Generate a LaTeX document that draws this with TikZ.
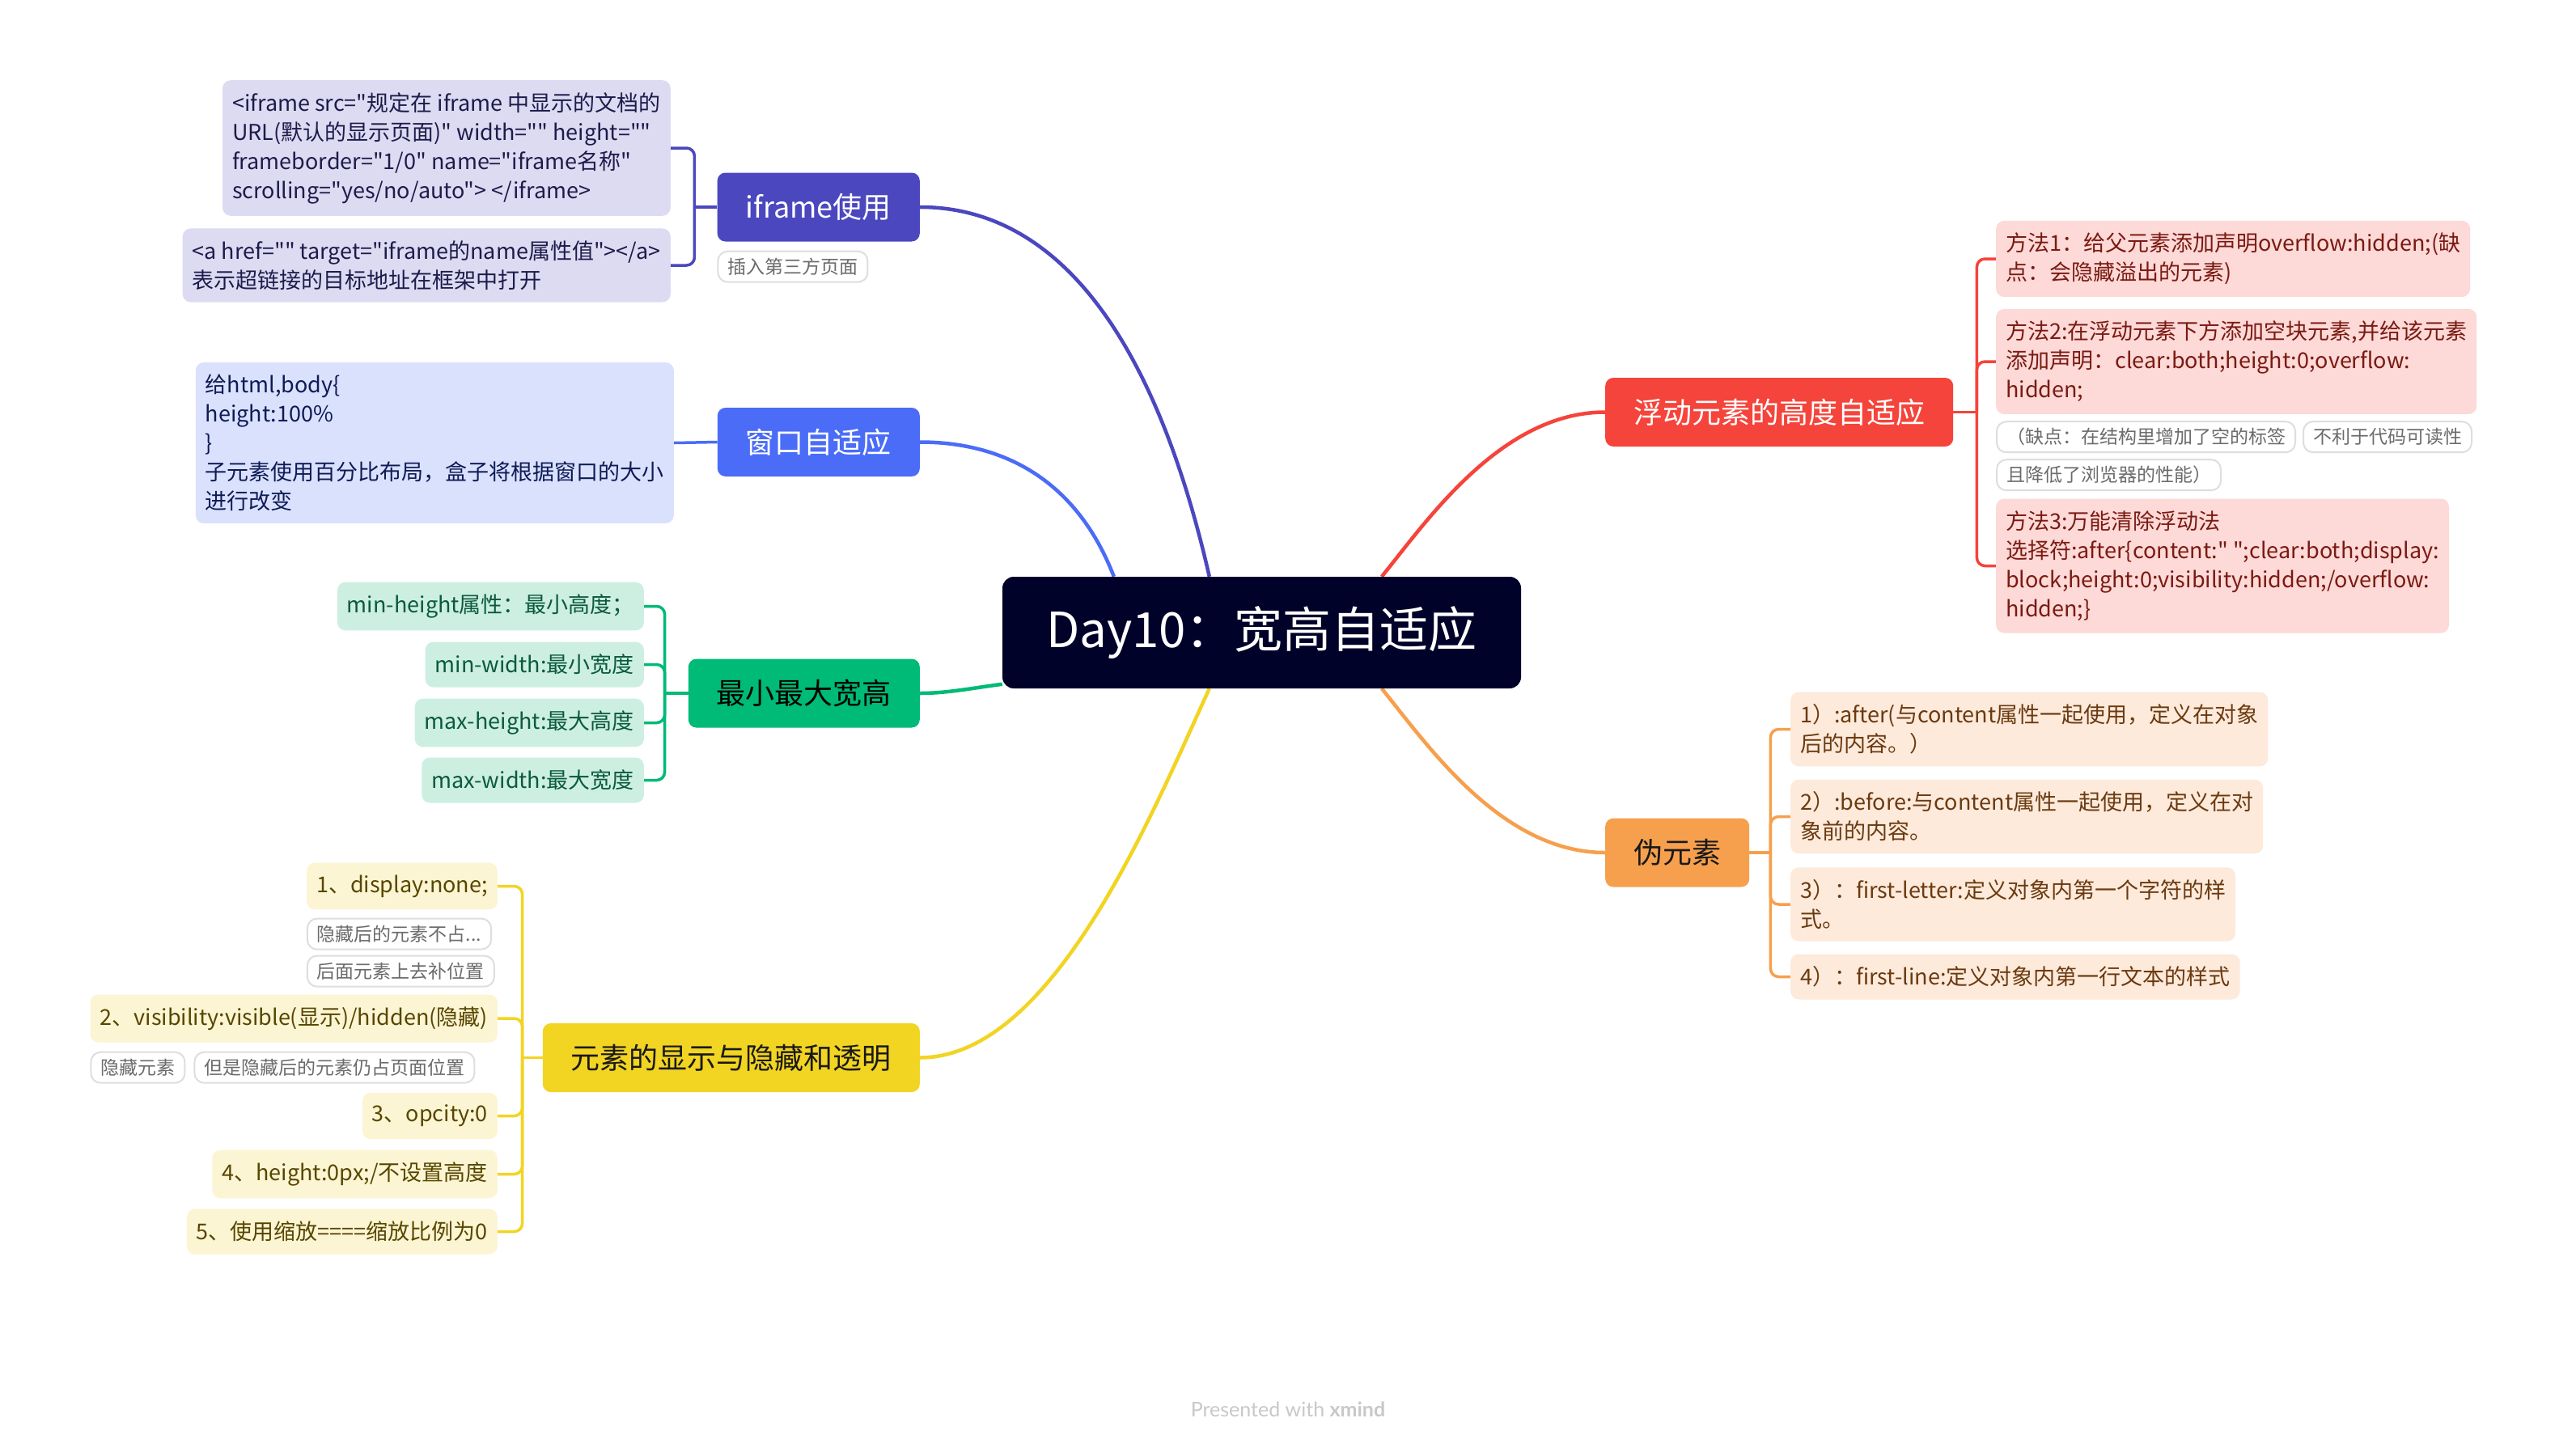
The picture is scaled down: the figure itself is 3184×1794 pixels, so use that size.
\documentclass[tikz,border=0pt]{standalone}
\usepackage{fontspec}
\newfontfamily\cjkmain{Noto Sans CJK SC}
\newfontfamily\footfont{Lato}
\usetikzlibrary{calc}
\definecolor{cRoot}{HTML}{000229}
\definecolor{cIf}{HTML}{4B47BE}\definecolor{cIfL}{HTML}{DDDBF2}\definecolor{cIfT}{HTML}{1E1B4B}
\definecolor{cWin}{HTML}{4A6CF7}\definecolor{cWinL}{HTML}{DAE1FD}\definecolor{cWinT}{HTML}{0E1B56}
\definecolor{cMm}{HTML}{00BA77}\definecolor{cMmL}{HTML}{CCEFE2}\definecolor{cMmT}{HTML}{0B5A3C}
\definecolor{cVis}{HTML}{F2D422}\definecolor{cVisL}{HTML}{FCF5D3}\definecolor{cVisT}{HTML}{574600}
\definecolor{cFl}{HTML}{F5443B}\definecolor{cFlL}{HTML}{FDD9D7}\definecolor{cFlT}{HTML}{7A1A12}
\definecolor{cPs}{HTML}{F6A04D}\definecolor{cPsL}{HTML}{FDEADB}\definecolor{cPsT}{HTML}{6B3A10}
\definecolor{cLblB}{HTML}{DEDEDE}\definecolor{cLblT}{HTML}{6B6B6B}
\definecolor{cFoot}{HTML}{C8C8C8}
\newcommand\fsRoot{\cjkmain\fontsize{60}{72}\selectfont}
\newcommand\fsMain{\cjkmain\fontsize{36}{44}\selectfont}
\newcommand\fsChild{\cjkmain\fontsize{27}{36}\selectfont}
\newcommand\fsLabel{\cjkmain\fontsize{23}{28}\selectfont}
\pgfdeclarelayer{bg}
\pgfsetlayers{bg,main}
\begin{document}
\begin{tikzpicture}[x=1pt,y=-1pt,
  rootbox/.style={fill=cRoot, text=white, rounded corners=14pt, minimum width=641pt, minimum height=138pt, inner sep=0pt, font=\fsRoot},
  mainbox/.style={rounded corners=10pt, minimum height=85pt, inner xsep=35pt, inner ysep=0pt, font=\fsMain},
  childbox/.style={rounded corners=10pt, minimum height=56pt, inner xsep=12pt, inner ysep=15pt, align=left, font=\fsChild},
  lbl/.style={draw=cLblB, line width=2pt, fill=white, rounded corners=12pt, minimum height=38pt, inner xsep=12pt, inner ysep=0pt, text=cLblT, font=\fsLabel},
  conn/.style={line width=4.5pt},
  brk/.style={line width=3.5pt},
  brc/.style={line width=3.5pt, rounded corners=10pt},
  ifc/.style={childbox, fill=cIfL, text=cIfT, anchor=east},
  winc/.style={childbox, fill=cWinL, text=cWinT, anchor=east},
  mmc/.style={childbox, fill=cMmL, text=cMmT, anchor=east},
  visc/.style={childbox, fill=cVisL, text=cVisT, anchor=east},
  flc/.style={childbox, fill=cFlL, text=cFlT, anchor=west},
  psc/.style={childbox, fill=cPsL, text=cPsT, anchor=west}
]
\useasboundingbox (0,0) rectangle (3184,1794);

% root
\node[rootbox] (root) at (1559.5,782) {Day10：宽高自适应};

% main topics
\node[mainbox, fill=cIf, text=white, anchor=east] (iframe) at (1137,256) {iframe使用};
\node[mainbox, fill=cWin, text=white, anchor=east] (win) at (1137,546.5) {窗口自适应};
\node[mainbox, fill=cMm, text=black, anchor=east] (minmax) at (1137,857) {最小最大宽高};
\node[mainbox, fill=cVis, text=black!90, anchor=east] (vis) at (1137,1307.5) {元素的显示与隐藏和透明};
\node[mainbox, fill=cFl, text=white, anchor=west] (float) at (1984,509.5) {浮动元素的高度自适应};
\node[mainbox, fill=cPs, text=black!90, anchor=west] (pseudo) at (1984,1054) {伪元素};

% iframe children
\node[ifc] (if1) at (829,183) {<iframe src="规定在 iframe 中显示的文档的\\URL(默认的显示页面)" width="" height=""\\frameborder="1/0" name="iframe名称"\\scrolling="yes/no/auto"> </iframe>};
\node[ifc] (if2) at (829,328) {<a href="" target="iframe的name属性值"></a>\\表示超链接的目标地址在框架中打开};
\node[lbl, anchor=north west] (ifl) at ($(iframe.south west)+(0,11)$) {插入第三方页面};

% window child
\node[winc] (win1) at (833,547.5) {给html,body\{\\height:100\%\\\}\\子元素使用百分比布局，盒子将根据窗口的大小\\进行改变};

% min max children
\node[mmc] (mm1) at (796,749.5) {min-height属性：最小高度；};
\node[mmc] (mm2) at (796,821.5) {min-width:最小宽度};
\node[mmc] (mm3) at (796,893.5) {max-height:最大高度};
\node[mmc] (mm4) at (796,964.5) {max-width:最大宽度};

% visibility children
\node[visc] (v1) at (615,1095.5) {1、display:none;};
\node[lbl, anchor=north west] (v1a) at ($(v1.south west)+(0,10)$) {隐藏后的元素不占...};
\node[lbl, anchor=north west] (v1b) at ($(v1a.south west)+(0,6)$) {后面元素上去补位置};
\node[visc] (v2) at (615,1259) {2、visibility:visible(显示)/hidden(隐藏)};
\node[lbl, anchor=north west] (v2a) at ($(v2.south west)+(0,11)$) {隐藏元素};
\node[lbl, anchor=west] (v2b) at ($(v2a.east)+(10,0)$) {但是隐藏后的元素仍占页面位置};
\node[visc] (v3) at (615,1379.5) {3、opcity:0};
\node[visc] (v4) at (615,1451.5) {4、height:0px;/不设置高度};
\node[visc] (v5) at (615,1522.5) {5、使用缩放====缩放比例为0};

% float children
\node[flc] (f1) at (2467,320) {方法1：给父元素添加声明overflow:hidden;(缺\\点：会隐藏溢出的元素)};
\node[flc] (f2) at (2467,447) {方法2:在浮动元素下方添加空块元素,并给该元素\\添加声明：clear:both;height:0;overflow:\\hidden;};
\node[lbl, anchor=north west] (f2a) at ($(f2.south west)+(0,8)$) {（缺点：在结构里增加了空的标签};
\node[lbl, anchor=west] (f2b) at ($(f2a.east)+(8,0)$) {不利于代码可读性};
\node[lbl, anchor=north west] (f2c) at ($(f2a.south west)+(0,7)$) {且降低了浏览器的性能）};
\node[flc] (f3) at (2467,699.5) {方法3:万能清除浮动法\\选择符:after\{content:" ";clear:both;display:\\block;height:0;visibility:hidden;/overflow:\\hidden;\}};

% pseudo children
\node[psc] (p1) at (2213,901.5) {1）:after(与content属性一起使用，定义在对象\\后的内容。）};
\node[psc] (p2) at (2213,1009.5) {2）:before:与content属性一起使用，定义在对\\象前的内容。};
\node[psc] (p3) at (2213,1118) {3）：first-letter:定义对象内第一个字符的样\\式。};
\node[psc] (p4) at (2213,1207.5) {4）：first-line:定义对象内第一行文本的样式};

% footer
\node[text=cFoot, font={\footfont\fontsize{25}{30}\selectfont}] (footer) at (1592,1742) {Presented with \textbf{xmind}};

% connector anchor points on root
\coordinate (rIf) at ($(root.north west)+(256,0)$);
\coordinate (rWin) at ($(root.north west)+(138,0)$);
\coordinate (rMm) at ($(root.north west)+(0,133)$);
\coordinate (rVis) at ($(root.south west)+(256,0)$);
\coordinate (rFl) at ($(root.north west)+(469,0)$);
\coordinate (rPs) at ($(root.south west)+(469,0)$);
% bracket junctions
\coordinate (jIf) at ($(iframe.west)+(-28,0)$);
\coordinate (jMm) at ($(minmax.west)+(-29,0)$);
\coordinate (jVis) at ($(vis.west)+(-25,0)$);
\coordinate (jFl) at ($(float.east)+(29,0)$);
\coordinate (jPs) at ($(pseudo.east)+(26,0)$);

\begin{pgfonlayer}{bg}
\fill[white] (0,0) rectangle (3184,1794);
% main connectors
\draw[conn, cIf] (iframe.east) .. controls (1302,256) and (1425,408) .. (rIf);
\draw[conn, cWin] (win.east) .. controls (1250,546.5) and (1334,602) .. (rWin);
\draw[conn, cMm] (minmax.east) .. controls (1172,857) and (1205,850) .. (rMm);
\draw[conn, cVis] (rVis) .. controls (1425,1003) and (1302,1307.5) .. (vis.east);
\draw[conn, cFl] (rFl) .. controls (1763,645) and (1855,509.5) .. (float.west);
\draw[conn, cPs] (rPs) .. controls (1763,919) and (1855,1054) .. (pseudo.west);

% iframe bracket
\draw[brk, cIf] (iframe.west) -- (jIf);
\draw[brc, cIf] (jIf) |- (if1.east);
\draw[brc, cIf] (jIf) |- (if2.east);
% window
\draw[brk, cWin] (win.west) -- (win1.east);
% min max
\draw[brk, cMm] (minmax.west) -- (jMm);
\draw[brc, cMm] (jMm) |- (mm1.east);
\draw[brc, cMm] (jMm) |- (mm2.east);
\draw[brc, cMm] (jMm) |- (mm3.east);
\draw[brc, cMm] (jMm) |- (mm4.east);
% visibility
\draw[brk, cVis] (vis.west) -- (jVis);
\draw[brc, cVis] (jVis) |- (v1.east);
\draw[brc, cVis] (jVis) |- (v2.east);
\draw[brc, cVis] (jVis) |- (v3.east);
\draw[brc, cVis] (jVis) |- (v4.east);
\draw[brc, cVis] (jVis) |- (v5.east);
% float
\draw[brk, cFl] (float.east) -- (jFl);
\draw[brc, cFl] (jFl) |- (f1.west);
\draw[brc, cFl] (jFl) |- (f2.west);
\draw[brc, cFl] (jFl) |- (f3.west);
% pseudo
\draw[brk, cPs] (pseudo.east) -- (jPs);
\draw[brc, cPs] (jPs) |- (p1.west);
\draw[brc, cPs] (jPs) |- (p2.west);
\draw[brc, cPs] (jPs) |- (p3.west);
\draw[brc, cPs] (jPs) |- (p4.west);
\end{pgfonlayer}
\end{tikzpicture}
\end{document}
